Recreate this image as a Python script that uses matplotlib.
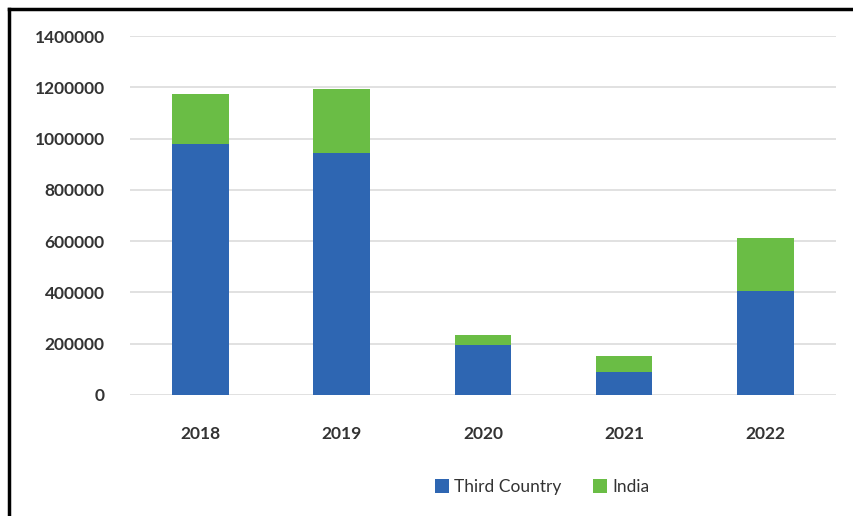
import matplotlib.pyplot as plt
import numpy as np
from matplotlib.lines import Line2D

years = ['2018', '2019', '2020', '2021', '2022']
third_country = [978000, 943000, 195000, 90000, 405000]
india = [195000, 250000, 39000, 62000, 207000]

blue = '#2E66B2'
green = '#6ABD45'

fig = plt.figure(figsize=(8.54, 5.16), dpi=100)
ax = fig.add_axes([0.152, 0.2345, 0.827, 0.6955])

x = np.arange(len(years))
bar_width = 0.4
ax.bar(x, third_country, width=bar_width, color=blue, label='Third Country', zorder=3)
ax.bar(x, india, width=bar_width, bottom=third_country, color=green, label='India', zorder=3)

ax.set_xlim(-0.5, len(years) - 0.5)
ax.set_ylim(0, 1400000)
ax.set_yticks(np.arange(0, 1400001, 200000))
ax.set_yticklabels([str(v) for v in range(0, 1400001, 200000)])
ax.set_xticks(x)
ax.set_xticklabels(years)

for lbl in ax.get_xticklabels() + ax.get_yticklabels():
    lbl.set_fontfamily('Lato')
    lbl.set_fontweight('bold')
    lbl.set_fontsize(12.5)
    lbl.set_color('#333333')

ax.tick_params(axis='both', length=0)
ax.tick_params(axis='y', pad=18)
ax.tick_params(axis='x', pad=22)
ax.grid(axis='y', color='#dcdcdc', linewidth=1.2, zorder=0)
for s in ax.spines.values():
    s.set_visible(False)

leg = fig.legend(loc='center', bbox_to_anchor=(0.635, 0.056), ncol=2, frameon=False,
                 prop={'family': 'Lato', 'size': 12.5}, handlelength=0.8, handleheight=0.8,
                 handletextpad=0.3, columnspacing=1.8)
for t in leg.get_texts():
    t.set_color('#333333')

# frame around chart (only top and left edges visible in crop)
fig.add_artist(Line2D([0.0106, 0.0106], [0.0, 0.983], transform=fig.transFigure, color='black', linewidth=2.5))
fig.add_artist(Line2D([0.0106, 1.0], [0.983, 0.983], transform=fig.transFigure, color='black', linewidth=2.5))

fig.savefig('out.png', dpi=100)
